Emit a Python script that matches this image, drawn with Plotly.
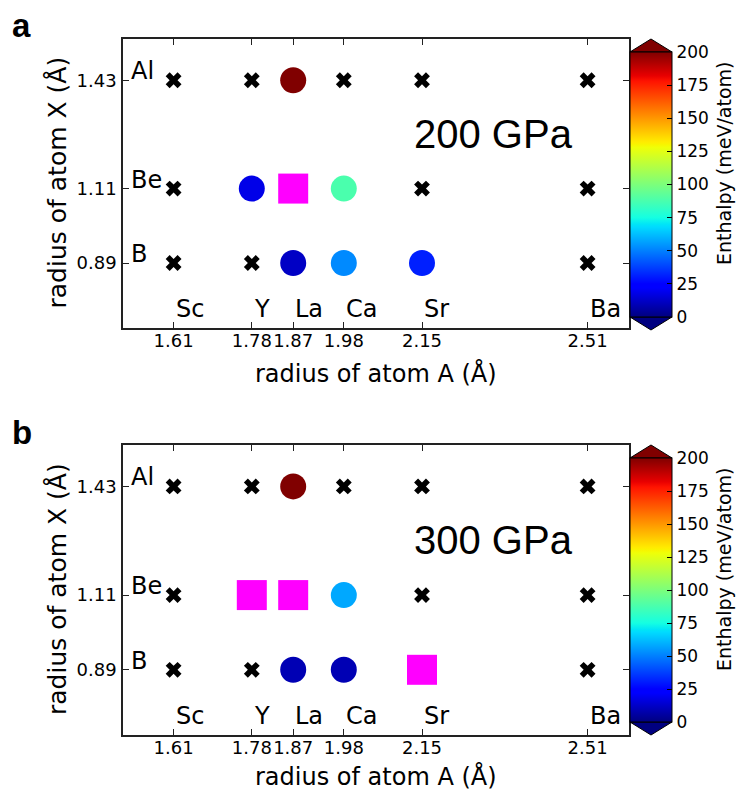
import numpy as np
import plotly.graph_objects as go

# ---------------------------------------------------------------- data
atoms_A = ["Sc", "Y", "La", "Ca", "Sr", "Ba"]
radius_A = [1.61, 1.78, 1.87, 1.98, 2.15, 2.51]
atoms_X = ["B", "Be", "Al"]
radius_X = [0.89, 1.11, 1.43]

# marker kind per (X row, A column): "x" no compound, "o" metastable, "s" ground state
kind_200 = [
    ["x", "x", "o", "o", "o", "x"],
    ["x", "o", "s", "o", "x", "x"],
    ["x", "x", "o", "x", "x", "x"],
]
enthalpy_200 = [
    [None, None, 12, 52, 31, None],
    [None, 18, None, 88, None, None],
    [None, None, 200, None, None, None],
]
kind_300 = [
    ["x", "x", "o", "o", "s", "x"],
    ["x", "s", "s", "o", "x", "x"],
    ["x", "x", "o", "x", "x", "x"],
]
enthalpy_300 = [
    [None, None, 9, 9, None, None],
    [None, None, None, 58, None, None],
    [None, None, 200, None, None, None],
]
pressures = ["200 GPa", "300 GPa"]
panel_letters = ["a", "b"]
cbar_ticks = [0, 25, 50, 75, 100, 125, 150, 175, 200]

# ---------------------------------------------------------------- jet colormap
jet_r = [(0, 0), (0.35, 0), (0.66, 1), (0.89, 1), (1, 0.5)]
jet_g = [(0, 0), (0.125, 0), (0.375, 1), (0.64, 1), (0.91, 0), (1, 0)]
jet_b = [(0, 0.5), (0.11, 1), (0.34, 1), (0.65, 0), (1, 0)]
stops = sorted({p for seg in (jet_r, jet_g, jet_b) for p, _ in seg})


def chan(seg, t):
    xs, ys = zip(*seg)
    return float(np.interp(t, xs, ys))


jet = [[t, "rgb(%d,%d,%d)" % tuple(round(255 * chan(s, t)) for s in (jet_r, jet_g, jet_b))]
       for t in stops]

# ---------------------------------------------------------------- geometry (px)
W, H = 736, 791
ML, MR, MT, MB = 123, 107, 39, 56
PW, PH = W - ML - MR, H - MT - MB
panels_px = [(39, 328), (445, 735)]          # plot top / bottom
xtitle_px = [373, 776]                       # x-axis title centre
cbar_px = [(52, 317), (458, 722)]            # colour bar top / bottom
cbar_x0, cbar_x1 = 630, 672
tri_h = 13


def px_x(px):
    return (px - ML) / PW


def px_y(py):
    return (H - MB - py) / PH


FONT = "DejaVu Sans"
fig = go.Figure()
shapes, annotations = [], []

for i, (kind, enth) in enumerate([(kind_200, enthalpy_200), (kind_300, enthalpy_300)]):
    xa = "x" if i == 0 else "x2"
    ya = "y" if i == 0 else "y2"
    cax = "coloraxis" if i == 0 else "coloraxis2"
    cx, cy, ox, oy, oc, sx, sy = [], [], [], [], [], [], []
    for r, ry in enumerate(radius_X):
        for c, rx in enumerate(radius_A):
            k = kind[r][c]
            if k == "x":
                cx.append(rx); cy.append(ry)
            elif k == "o":
                ox.append(rx); oy.append(ry); oc.append(enth[r][c])
            else:
                sx.append(rx); sy.append(ry)
    fig.add_trace(go.Scatter(x=cx, y=cy, mode="markers", xaxis=xa, yaxis=ya,
                             marker=dict(symbol="x", size=14, color="black", line=dict(width=0)),
                             showlegend=False, hoverinfo="skip"))
    fig.add_trace(go.Scatter(x=sx, y=sy, mode="markers", xaxis=xa, yaxis=ya,
                             marker=dict(symbol="square", size=30, color="#ff00ff", line=dict(width=0)),
                             showlegend=False, hoverinfo="skip"))
    fig.add_trace(go.Scatter(x=ox, y=oy, mode="markers", xaxis=xa, yaxis=ya,
                             marker=dict(symbol="circle", size=26, color=oc, coloraxis=cax,
                                         line=dict(width=0)),
                             showlegend=False, hoverinfo="skip"))

    # element labels
    for name, ry in zip(atoms_X, radius_X):
        annotations.append(dict(x=1.512, y=ry, xref=xa, yref=ya, text=name, showarrow=False,
                                xanchor="left", yanchor="bottom", yshift=-7,
                                font=dict(family=FONT, size=24, color="black")))
    for name, rx in zip(atoms_A, radius_A):
        annotations.append(dict(x=rx, y=0.728, xref=xa, yref=ya, text=name, showarrow=False,
                                xanchor="left", yanchor="bottom", yshift=-7,
                                font=dict(family=FONT, size=24, color="black")))
    annotations.append(dict(x=2.128, y=1.272, xref=xa, yref=ya, text=pressures[i], showarrow=False,
                            xanchor="left", yanchor="middle",
                            font=dict(family="Liberation Sans", size=40, color="black")))

    top, bot = panels_px[i]
    # axis titles and panel letter
    annotations.append(dict(x=px_x(57), y=px_y((top + bot) / 2 - 1), xref="paper", yref="paper",
                            text="radius of atom X (Å)", textangle=-90, showarrow=False,
                            xanchor="center", yanchor="middle",
                            font=dict(family=FONT, size=25, color="black")))
    annotations.append(dict(x=0.5, y=px_y(xtitle_px[i]), xref="paper", yref="paper",
                            text="radius of atom A (Å)", showarrow=False,
                            xanchor="center", yanchor="middle", borderpad=0,
                            font=dict(family=FONT, size=24, color="black")))
    annotations.append(dict(x=px_x(10), y=px_y(top - 13), xref="paper", yref="paper",
                            text="<b>%s</b>" % panel_letters[i], showarrow=False,
                            xanchor="left", yanchor="middle",
                            font=dict(family="Liberation Sans", size=33, color="black")))

    # colour bar extension triangles and label
    c0, c1 = cbar_px[i]
    xm = (cbar_x0 + cbar_x1) / 2
    up = "M %f %f L %f %f L %f %f Z" % (px_x(cbar_x0), px_y(c0), px_x(xm), px_y(c0 - tri_h),
                                       px_x(cbar_x1), px_y(c0))
    dn = "M %f %f L %f %f L %f %f Z" % (px_x(cbar_x0), px_y(c1), px_x(xm), px_y(c1 + tri_h),
                                       px_x(cbar_x1), px_y(c1))
    shapes.append(dict(type="path", path=up, xref="paper", yref="paper",
                       fillcolor=jet[-1][1], line=dict(color="black", width=1)))
    shapes.append(dict(type="path", path=dn, xref="paper", yref="paper",
                       fillcolor=jet[0][1], line=dict(color="black", width=1)))
    annotations.append(dict(x=px_x(724), y=px_y(c0 + 112), xref="paper", yref="paper",
                            text="Enthalpy (meV/atom)", textangle=-90, showarrow=False,
                            xanchor="center", yanchor="middle", borderpad=0,
                            font=dict(family=FONT, size=19, color="black")))

axis_common = dict(showline=True, linecolor="#222", linewidth=1.5, mirror="ticks",
                   ticks="inside", ticklen=6, tickwidth=1.2, tickcolor="#222",
                   showgrid=False, zeroline=False, tickangle=0,
                   tickfont=dict(family=FONT, size=18, color="black"))
xcommon = dict(axis_common, range=[1.5, 2.6], tickvals=radius_A,
               ticktext=["%.2f" % v for v in radius_A], ticklabelstandoff=-4)
ycommon = dict(axis_common, range=[0.698, 1.552], tickvals=radius_X,
               ticktext=["%.2f" % v for v in radius_X], ticklabelstandoff=1)


def cbar(i):
    c0, c1 = cbar_px[i]
    return dict(colorscale=jet, cmin=0, cmax=200,
                colorbar=dict(x=px_x(cbar_x0), xanchor="left", xpad=0, ypad=0,
                              y=px_y((c0 + c1) / 2), yanchor="middle",
                              lenmode="pixels", len=c1 - c0, thickness=cbar_x1 - cbar_x0,
                              outlinewidth=1, outlinecolor="black",
                              tickvals=cbar_ticks, ticks="inside", ticklen=5,
                              tickcolor="black",
                              tickfont=dict(family=FONT, size=17, color="black")))


fig.update_layout(
    width=W, height=H, autosize=False,
    margin=dict(l=ML, r=MR, t=MT, b=MB),
    paper_bgcolor="white", plot_bgcolor="white",
    xaxis=dict(xcommon, domain=[0, 1], anchor="y"),
    yaxis=dict(ycommon, domain=[px_y(panels_px[0][1]), 1], anchor="x"),
    xaxis2=dict(xcommon, domain=[0, 1], anchor="y2"),
    yaxis2=dict(ycommon, domain=[0, px_y(panels_px[1][0])], anchor="x2"),
    coloraxis=cbar(0), coloraxis2=cbar(1),
    shapes=shapes, annotations=annotations,
    showlegend=False,
)

fig.write_html("out.html")
